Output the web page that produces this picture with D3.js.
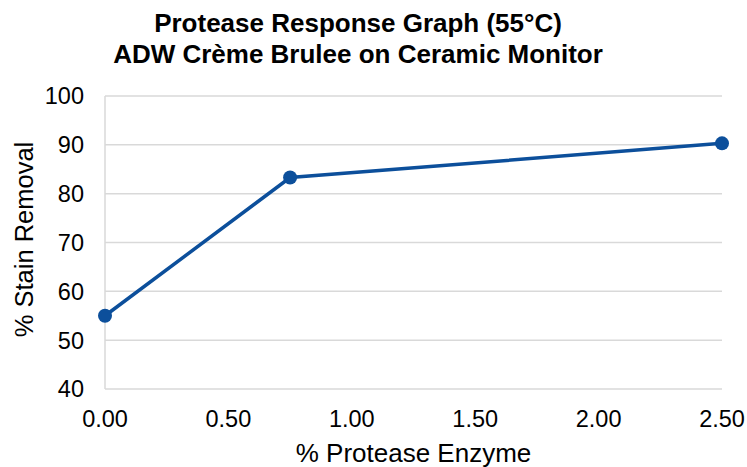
<!DOCTYPE html>
<html>
<head>
<meta charset="utf-8">
<script src="https://cdn.jsdelivr.net/npm/d3@7"></script>
<style>
body { margin: 0; background: #fff; }
text { font-family: "Liberation Sans", Arial, sans-serif; fill: #000; }
</style>
</head>
<body>
<div id="chart"></div>
<script>
var width = 747,
	height = 467;

// data
var enzyme = [0, 0.75, 2.5];
var removal = [55, 83.3, 90.3];
var xTicks = [0, 0.5, 1, 1.5, 2, 2.5];
var yTicks = [40, 50, 60, 70, 80, 90, 100];
var titleLines = ["Protease Response Graph (55°C)", "ADW Crème Brulee on Ceramic Monitor"];

var margin = {left: 105, right: 25, top: 96, bottom: 78};

var svg = d3.select("#chart")
	.append("svg")
	.attr("width", width)
	.attr("height", height);

var x = d3.scaleLinear()
	.domain([0, 2.5])
	.range([margin.left, width - margin.right]);

var y = d3.scaleLinear()
	.domain([40, 100])
	.range([height - margin.bottom, margin.top]);

// gridlines
svg.selectAll(".grid")
	.data(yTicks)
	.enter()
	.append("line")
	.attr("x1", x(0))
	.attr("x2", x(2.5))
	.attr("y1", function(d) { return y(d); })
	.attr("y2", function(d) { return y(d); })
	.attr("stroke", "#d9d9d9")
	.attr("stroke-width", 1.5);

// left axis line
svg.append("line")
	.attr("x1", x(0)).attr("x2", x(0))
	.attr("y1", y(40)).attr("y2", y(100))
	.attr("stroke", "#d9d9d9")
	.attr("stroke-width", 1.5);

// y tick labels
svg.selectAll(".ylab")
	.data(yTicks)
	.enter()
	.append("text")
	.attr("x", x(0) - 21)
	.attr("y", function(d) { return y(d); })
	.attr("dy", "0.36em")
	.attr("text-anchor", "end")
	.attr("font-size", "23.5px")
	.text(function(d) { return d; });

// x tick labels
svg.selectAll(".xlab")
	.data(xTicks)
	.enter()
	.append("text")
	.attr("x", function(d) { return x(d); })
	.attr("y", y(40) + 38)
	.attr("text-anchor", "middle")
	.attr("font-size", "23.5px")
	.text(function(d) { return d3.format(".2f")(d); });

// axis titles
svg.append("text")
	.attr("x", (x(0) + x(2.5)) / 2)
	.attr("y", height - 5)
	.attr("text-anchor", "middle")
	.attr("font-size", "26px")
	.text("% Protease Enzyme");

svg.append("text")
	.attr("transform", "translate(33," + ((y(40) + y(100)) / 2 - 3) + ") rotate(-90)")
	.attr("text-anchor", "middle")
	.attr("font-size", "25.5px")
	.text("% Stain Removal");

// title
svg.selectAll(".title")
	.data(titleLines)
	.enter()
	.append("text")
	.attr("x", 358)
	.attr("y", function(d, i) { return 32 + i * 31; })
	.attr("text-anchor", "middle")
	.attr("font-size", "26px")
	.attr("font-weight", "bold")
	.text(function(d) { return d; });

// series
var points = enzyme.map(function(d, i) { return [d, removal[i]]; });

svg.append("path")
	.datum(points)
	.attr("fill", "none")
	.attr("stroke", "#0c4f9b")
	.attr("stroke-width", 3.5)
	.attr("d", d3.line()
		.x(function(d) { return x(d[0]); })
		.y(function(d) { return y(d[1]); }));

svg.selectAll(".dot")
	.data(points)
	.enter()
	.append("circle")
	.attr("cx", function(d) { return x(d[0]); })
	.attr("cy", function(d) { return y(d[1]); })
	.attr("r", 7)
	.attr("fill", "#0c4f9b");
</script>
</body>
</html>
